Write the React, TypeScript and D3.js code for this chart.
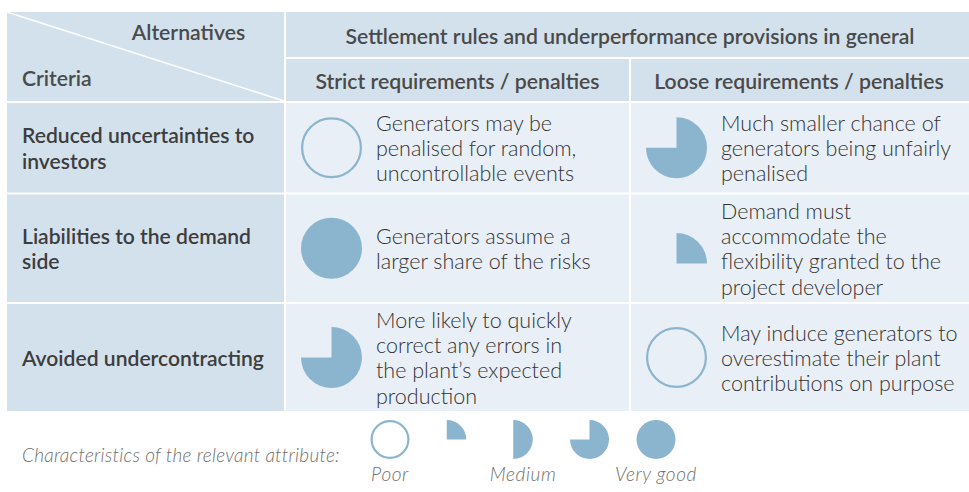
import React, { useEffect } from "react";
import * as d3 from "d3";

// table content
const groupTitle = "Settlement rules and underperformance provisions in general";
const alternatives = ["Strict requirements / penalties", "Loose requirements / penalties"];
const criteria = [
  ["Reduced uncertainties to", "investors"],
  ["Liabilities to the demand", "side"],
  ["Avoided undercontracting"],
];
// score in quarters: 0 = poor (empty ring), 4 = very good (full disc)
const strictScores = [0, 4, 3];
const looseScores = [3, 1, 0];
const strictNotes = [
  ["Generators may be", "penalised for random,", "uncontrollable events"],
  ["Generators assume a", "larger share of the risks"],
  ["More likely to quickly", "correct any errors in", "the plant\u2019s expected", "production"],
];
const looseNotes = [
  ["Much smaller chance of", "generators being unfairly", "penalised"],
  ["Demand must", "accommodate the", "flexibility granted to the", "project developer"],
  ["May induce generators to", "overestimate their plant", "contributions on purpose"],
];
const legendTitle = "Characteristics of the relevant attribute:";
const legendLevels = [0, 1, 2, 3, 4];
const legendLabels = ["Poor", "", "Medium", "", "Very good"];

const W = 969;
const H = 492;
const HEADER_BG = "#d3e1ec";
const CELL_BG = "#e9eff6";
const PIE = "#8bb5ce";
const FONT = "Lato, 'Open Sans', sans-serif";
const GAP = 2;

const colX = [7, 286, 631, 969]; // column edges
const rowTops = [103, 194.5, 304];
const rowHeights = [89.5, 107.5, 107];
const lineH = 25.3;

const arc = d3.arc<number>()
  .innerRadius(0)
  .startAngle(0);

function Score({ level, x, y, r, table }: { level: number; x: number; y: number; r: number; table: boolean }) {
  if (level === 0) {
    return <circle cx={x} cy={y} r={r - 1.1} fill="none" stroke={PIE} strokeWidth={2.2} />;
  }
  // partial pies are centred on their bounding box
  let cx = x;
  let cy = y;
  if (table && level === 1) cy = y + r / 2;
  if (!table && (level === 1 || level === 2)) cx = x - r / 2;
  const d = arc.outerRadius(r).endAngle((level / 4) * Math.PI * 2)(level as any) as string;
  return <path d={d} transform={`translate(${cx},${cy})`} fill={PIE} />;
}

export default function App() {
  useEffect(() => {
    document.body.style.margin = "0";
  }, []);

  const rowCenter = (i: number) => rowTops[i] + rowHeights[i] / 2;
  const baselines = (i: number, n: number) =>
    d3.range(n).map((k) => rowCenter(i) + 8.3 + (k - (n - 1) / 2) * lineH);

  const legendX = d3.scalePoint<number>().domain(legendLevels).range([390, 656]);
  const legendY = 439.5;

  const columns = [
    { scores: strictScores, notes: strictNotes },
    { scores: looseScores, notes: looseNotes },
  ];

  return (
    <svg width={W} height={H} viewBox={`0 0 ${W} ${H}`} style={{ display: "block", background: "#fff" }}>
      {/* header */}
      <rect x={colX[0]} y={12} width={colX[1] - GAP - colX[0]} height={103 - GAP - 12} fill={HEADER_BG} />
      <line x1={colX[0]} y1={12} x2={colX[1] - GAP} y2={103 - GAP} stroke="#fff" strokeWidth={1.5} />
      <rect x={colX[1]} y={12} width={colX[3] - colX[1]} height={57 - 12} fill={HEADER_BG} />
      {alternatives.map((a, j) => (
        <rect key={a} x={colX[j + 1]} y={59} width={colX[j + 2] - colX[j + 1] - (j === 0 ? GAP : 0)} height={101 - 59} fill={HEADER_BG} />
      ))}
      <g fontFamily={FONT} fontWeight={600} fill="#4a4a4a" fontSize={21.2}>
        <text x={188.5} y={39.5} textAnchor="middle">Alternatives</text>
        <text x={22} y={86}>Criteria</text>
        <text x={630} y={43.5} textAnchor="middle">{groupTitle}</text>
        {alternatives.map((a, j) => (
          <text key={a} x={(colX[j + 1] + colX[j + 2] - GAP) / 2} y={89} textAnchor="middle">{a}</text>
        ))}
      </g>

      {/* body rows */}
      {criteria.map((lines, i) => (
        <g key={i}>
          <rect x={colX[0]} y={rowTops[i]} width={colX[1] - GAP - colX[0]} height={rowHeights[i]} fill={HEADER_BG} />
          <text fontFamily={FONT} fontWeight={600} fill="#3d3d3d" fontSize={21.1}>
            {lines.map((l, k) => (
              <tspan key={k} x={22} y={baselines(i, lines.length)[k]}>{l}</tspan>
            ))}
          </text>
          {columns.map((c, j) => {
            const x0 = colX[j + 1];
            const notes = c.notes[i];
            return (
              <g key={j}>
                <rect x={x0} y={rowTops[i]} width={colX[j + 2] - x0 - (j === 0 ? GAP : 0)} height={rowHeights[i]} fill={CELL_BG} />
                <Score level={c.scores[i]} x={x0 + 45.5} y={rowCenter(i)} r={30.5} table={true} />
                <text fontFamily={FONT} fontWeight={300} fill="#333" fontSize={21.5}>
                  {notes.map((l, k) => (
                    <tspan key={k} x={x0 + 90} y={baselines(i, notes.length)[k]}>{l}</tspan>
                  ))}
                </text>
              </g>
            );
          })}
        </g>
      ))}

      {/* legend */}
      <g fontFamily={FONT} fontWeight={300} fontStyle="italic" fill="#6f6f6f" fontSize={19} letterSpacing={0.25}>
        <text x={22} y={462}>{legendTitle}</text>
        {legendLevels.map((lv, k) => (
          <g key={lv}>
            <Score level={lv} x={legendX(lv)!} y={legendY} r={19.5} table={false} />
            {legendLabels[k] && (
              <text x={legendX(lv)} y={481} textAnchor="middle" letterSpacing={0.6}>{legendLabels[k]}</text>
            )}
          </g>
        ))}
      </g>
    </svg>
  );
}
